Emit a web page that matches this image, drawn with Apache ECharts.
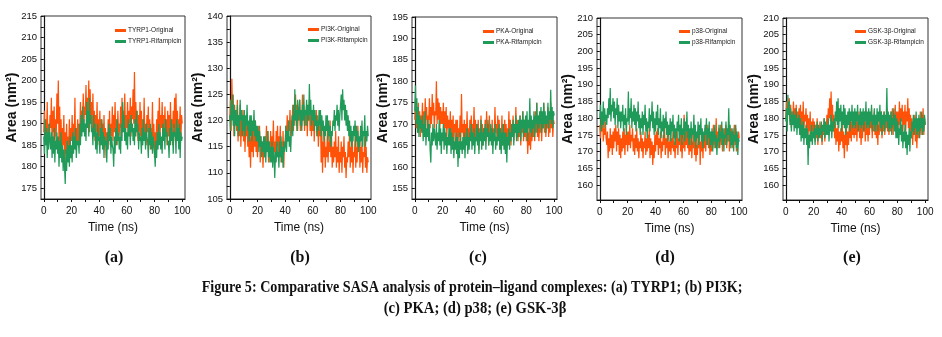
<!DOCTYPE html>
<html>
<head>
<meta charset="utf-8">
<title>SASA comparison</title>
<script src="https://cdn.jsdelivr.net/npm/echarts@6/dist/echarts.min.js"></script>
<style>
  html, body { margin: 0; padding: 0; background: #fff; }
  #chart { width: 942px; height: 337px; }
</style>
</head>
<body>
<div id="chart"></div>
<script>
// Sampling step of the MD trajectories (ns)
const TIME_STEP = 0.5;

const xTicks = [0, 20, 40, 60, 80, 100];
const xMinorTicks = [0, 10, 20, 30, 40, 50, 60, 70, 80, 90, 100];

const panelLabels = ['(a)', '(b)', '(c)', '(d)', '(e)'];
const proteins = ['TYRP1', 'PI3K', 'PKA', 'p38', 'GSK-3β'];

// Y axis ranges and labelled ticks for each panel
const yRanges = [[172.5, 215], [105, 140], [152.5, 195], [155.5, 210], [155.5, 210]];
const yTicksA = [175, 180, 185, 190, 195, 200, 205, 210, 215];
const yTicksB = [105, 110, 115, 120, 125, 130, 135, 140];
const yTicksC = [155, 160, 165, 170, 175, 180, 185, 190, 195];
const yTicksD = [160, 165, 170, 175, 180, 185, 190, 195, 200, 205, 210];
const yTicksE = [160, 165, 170, 175, 180, 185, 190, 195, 200, 205, 210];

// SASA (nm^2), one value every 0.5 ns from 0 to 100 ns
const tyrp1Original = [
  188,193,185,191,187,195,184,190,186,192, 189,196,185,193,188,194,184,191,187,197,
  190,200,186,194,184,191,183,189,185,192, 181,188,183,190,182,187,184,191,183,189,
  186,192,184,190,185,196,184,189,186,191, 185,190,187,195,188,193,189,197,190,194,
  192,199,189,196,191,200,188,198,190,195, 189,197,187,193,186,192,188,195,185,191,
  187,193,185,191,186,190,184,192,185,189, 182,188,184,191,186,193,185,190,187,194,
  186,192,188,195,187,191,185,193,188,190, 187,194,189,196,188,193,190,197,187,192,
  189,195,188,193,190,196,187,194,191,198, 190,202,188,195,189,193,186,192,188,195,
  187,193,185,191,188,196,186,190,185,192, 188,194,186,191,184,189,187,195,185,190,
  182,188,184,191,186,193,188,196,187,192, 189,195,187,192,186,194,188,191,185,193,
  187,192,186,195,188,191,185,193,189,196, 186,197,188,193,187,191,189,194,186,192,
  190
];
const tyrp1Rifampicin = [
  187,183,191,185,189,182,188,184,190,186, 184,188,182,187,183,189,181,186,184,188,
  183,187,180,186,182,188,181,185,179,184, 180,176,184,179,186,181,185,180,187,182,
  185,181,188,183,187,184,189,182,186,185, 186,183,190,185,192,187,194,188,191,187,
  190,186,195,189,193,187,196,190,192,188, 189,185,192,187,190,184,188,183,190,186,
  187,183,189,185,191,184,188,182,187,185, 186,181,188,184,190,186,189,183,187,185,
  184,180,187,183,189,185,191,186,188,184, 187,183,190,186,195,188,192,186,189,185,
  188,184,191,187,190,185,192,188,190,186, 189,185,191,187,193,188,190,184,188,186,
  187,183,189,185,191,186,188,184,190,187, 186,182,189,185,190,184,188,183,187,185,
  183,180,186,182,188,184,190,185,188,184, 187,183,190,186,189,184,191,187,188,185,
  186,182,189,185,191,186,188,183,190,187, 188,183,191,186,189,184,190,182,188,186,
  187
];
const pi3kOriginal = [
  120,124,118,128,121,125,117,123,119,122, 118,124,116,121,117,123,115,120,117,122,
  116,121,114,119,117,120,115,118,113,117, 111,117,114,119,113,118,115,120,114,117,
  113,118,115,119,112,117,114,116,111,115, 113,117,115,119,114,118,112,116,114,118,
  113,117,115,120,114,116,112,118,115,119, 113,117,115,119,112,116,114,118,111,116,
  115,119,117,121,116,120,118,122,117,120, 119,123,118,122,120,125,119,123,118,122,
  120,124,118,122,119,125,120,123,118,121, 119,123,117,122,120,124,118,121,117,122,
  118,122,116,120,119,122,117,121,115,119, 117,121,112,118,110,116,113,117,111,115,
  113,118,112,116,114,120,113,117,111,115, 112,116,113,118,111,115,112,117,110,114,
  112,116,110,115,113,117,111,114,109,113, 112,116,113,118,111,115,112,117,110,114,
  113,117,111,115,112,119,114,116,111,115, 112,116,110,114,113,117,111,115,110,113,
  112
];
const pi3kRifampicin = [
  121,118,124,120,125,119,123,117,122,120, 119,123,117,121,118,124,120,122,117,121,
  118,122,117,121,119,123,118,120,116,121, 117,121,116,120,118,122,117,120,116,119,
  116,119,114,118,115,117,113,116,114,117, 113,117,112,116,114,118,113,116,112,115,
  112,116,111,115,113,109,114,112,116,113, 114,111,116,113,117,112,115,111,116,114,
  115,119,114,118,116,120,115,117,114,118, 121,117,123,119,126,120,122,118,124,120,
  120,124,119,122,118,123,120,125,119,122, 121,124,119,123,120,127,121,124,119,122,
  120,123,118,122,119,121,117,120,118,122, 119,122,117,121,118,120,116,119,117,121,
  118,121,116,120,117,119,115,118,117,120, 119,122,118,121,120,123,119,122,118,121,
  121,125,120,126,122,124,120,123,119,122, 118,121,117,120,116,119,115,118,116,119,
  117,120,115,119,116,118,114,117,115,119, 116,120,115,118,117,121,115,118,116,119,
  117
];
const pkaOriginal = [
  171,176,169,174,168,175,170,173,167,172, 170,175,168,173,169,176,171,174,168,172,
  171,176,169,174,170,177,172,175,169,173, 172,180,170,176,171,175,169,174,170,173,
  170,175,168,173,169,174,167,172,169,171, 168,173,166,171,167,172,165,170,168,171,
  166,171,165,169,167,172,166,177,168,170, 166,171,165,170,167,173,166,169,165,171,
  167,172,166,170,168,174,167,171,166,170, 166,171,164,169,167,172,166,170,165,169,
  167,171,166,173,168,170,165,172,167,169, 166,171,165,169,167,174,168,170,166,172,
  167,171,164,169,166,172,165,170,167,171, 166,170,164,169,167,173,166,171,165,169,
  167,172,166,170,168,174,167,171,166,170, 167,172,165,170,168,173,166,171,167,170,
  166,169,163,168,165,170,164,168,166,169, 167,171,166,173,168,175,167,172,166,170,
  168,173,166,171,169,175,168,172,167,171, 169,174,167,172,168,175,169,173,167,171,
  170
];
const pkaRifampicin = [
  173,179,170,176,168,174,167,172,169,171, 168,172,166,170,167,173,165,169,167,171,
  166,170,164,161,168,165,170,166,169,167, 165,170,164,168,166,171,165,169,163,168,
  166,170,164,169,165,168,163,167,165,169, 165,169,163,168,164,167,162,166,164,168,
  163,167,160,166,162,168,164,166,163,167, 164,168,162,167,165,169,163,167,164,168,
  166,170,164,168,165,169,163,167,166,170, 165,169,163,168,166,171,164,168,165,169,
  166,170,164,169,167,171,165,168,166,170, 165,169,163,168,166,170,164,167,165,169,
  166,170,164,169,163,168,165,170,164,168, 163,168,161,167,165,169,164,168,166,170,
  167,171,165,170,168,172,166,170,167,171, 168,172,166,171,169,173,167,171,168,172,
  168,173,166,171,169,176,168,172,167,171, 169,173,167,172,170,175,168,172,169,173,
  170,174,168,173,169,175,170,173,168,172, 170,175,169,173,171,178,170,174,169,173,
  172
];
const p38Original = [
  178,174,181,176,180,173,177,175,179,174, 172,176,168,174,170,177,171,175,169,176,
  171,177,173,178,170,176,172,177,169,175, 168,174,170,176,171,177,169,175,172,176,
  170,176,172,178,171,175,173,177,170,174, 169,175,171,177,170,174,168,173,171,176,
  170,174,168,173,171,176,169,174,170,175, 171,177,168,174,169,173,166,172,168,175,
  170,176,172,177,169,174,171,176,168,173, 170,175,172,177,169,174,171,175,168,173,
  170,175,169,174,171,176,170,173,168,174, 171,176,169,174,172,177,170,175,168,173,
  171,181,170,176,172,178,171,175,169,174, 170,176,168,173,171,177,169,174,167,172,
  169,175,171,177,166,173,170,176,168,174, 171,177,170,175,172,178,171,176,169,174,
  170,176,172,178,171,175,173,180,172,176, 171,177,173,178,172,176,170,175,173,177,
  172,178,171,176,173,179,170,175,172,177, 171,176,173,178,172,177,170,175,172,176,
  174
];
const p38Rifampicin = [
  180,184,176,182,178,185,177,183,179,181, 178,183,180,186,181,189,179,184,182,186,
  180,185,178,183,181,186,177,184,179,182, 177,182,179,184,176,181,178,183,175,180,
  179,188,178,183,180,186,177,182,179,184, 178,183,176,182,179,185,177,181,175,180,
  177,182,175,181,178,184,176,180,174,179, 177,183,176,181,179,185,177,182,175,180,
  176,182,178,184,175,180,177,183,174,179, 176,181,174,180,177,182,175,179,173,178,
  175,180,173,179,176,181,174,178,172,177, 174,179,176,181,173,178,175,180,172,177,
  175,180,173,179,176,182,174,178,172,177, 174,179,172,177,175,181,173,178,171,176,
  174,179,172,178,175,180,173,177,171,176, 173,178,175,180,172,177,174,179,171,176,
  172,177,170,176,173,178,171,175,169,174, 173,178,171,176,174,179,172,177,170,175,
  174,179,172,177,175,183,173,178,171,176, 172,177,170,175,173,178,171,176,169,174,
  173
];
const gsk3bOriginal = [
  180,185,178,183,181,186,179,184,177,182, 180,185,178,183,179,184,177,182,178,183,
  179,184,177,182,178,185,176,181,179,183, 177,181,175,180,176,182,174,179,176,180,
  175,179,173,178,174,180,172,177,175,179, 174,178,172,177,175,180,173,178,176,181,
  178,183,180,186,179,188,178,184,176,181, 174,179,172,177,173,178,170,176,172,177,
  173,178,171,176,168,175,172,177,170,176, 172,178,174,180,173,179,175,181,174,179,
  175,181,173,179,176,182,174,180,172,178, 174,180,176,182,173,179,175,181,173,178,
  175,181,177,183,174,180,176,182,175,180, 174,180,172,178,175,181,176,182,174,179,
  176,182,175,180,177,183,176,181,175,180, 176,182,177,183,175,181,178,184,177,182,
  176,182,178,185,177,183,179,184,176,182, 178,184,176,182,179,186,177,183,175,181,
  174,180,172,178,175,181,173,179,171,177, 174,180,176,182,175,181,177,183,175,180,
  178
];
const gsk3bRifampicin = [
  179,183,176,187,181,185,178,183,176,181, 178,182,176,181,177,183,175,180,177,181,
  175,180,173,178,174,179,172,177,174,178, 172,177,166,175,171,176,173,178,172,176,
  174,178,172,177,175,179,173,178,174,177, 175,179,173,178,176,180,174,179,175,178,
  175,180,173,178,176,181,174,179,176,180, 177,182,179,185,178,186,177,183,179,184,
  176,182,178,184,177,183,175,181,177,182, 178,183,176,182,179,184,177,182,178,183,
  177,182,179,184,176,181,178,183,177,182, 178,183,176,182,179,185,177,182,178,183,
  177,182,179,184,176,181,178,183,176,181, 178,183,176,182,179,184,177,182,175,181,
  178,182,176,181,179,189,177,182,176,181, 177,182,175,180,178,183,176,181,174,180,
  174,179,172,177,175,180,173,178,171,176, 173,178,171,176,169,175,172,177,170,176,
  174,179,176,181,175,180,177,182,175,180, 176,181,174,180,177,182,175,180,176,181,
  178
];

const originalSeries = [tyrp1Original, pi3kOriginal, pkaOriginal, p38Original, gsk3bOriginal];
const rifampicinSeries = [tyrp1Rifampicin, pi3kRifampicin, pkaRifampicin, p38Rifampicin, gsk3bRifampicin];
const yTickSets = [yTicksA, yTicksB, yTicksC, yTicksD, yTicksE];

const ORANGE = '#ff5208';
const GREEN = '#1f9a58';
const SANS = '"Liberation Sans", Arial, sans-serif';
const SERIF = '"Liberation Serif", "Times New Roman", serif';

// Plot rectangles (px) for the five panels
const boxes = [
  { left: 41,  top: 16, width: 144, height: 183 },
  { left: 227, top: 16, width: 144, height: 183 },
  { left: 412, top: 17, width: 145, height: 182 },
  { left: 597, top: 18, width: 145, height: 182 },
  { left: 783, top: 18, width: 145, height: 182 }
];
const legendPos = [
  { left: 115, top: 27 }, { left: 308, top: 26 }, { left: 483, top: 28 },
  { left: 679, top: 28 }, { left: 855, top: 28 }
];
const captionX = [114, 300, 478, 665, 852];

function toPairs(values) {
  return values.map((v, i) => [i * TIME_STEP, v]);
}
function halfSteps(ticks) {
  const out = [];
  for (let i = 0; i < ticks.length; i++) {
    out.push(ticks[i]);
    if (i < ticks.length - 1) out.push((ticks[i] + ticks[i + 1]) / 2);
  }
  return out;
}

const grid = [], xAxis = [], yAxis = [], series = [], legend = [];
boxes.forEach((b, k) => {
  grid.push(Object.assign({ show: true, borderColor: '#333', borderWidth: 1, backgroundColor: '#fff' }, b));
  xAxis.push({
    type: 'value', gridIndex: k, min: -2, max: 102,
    name: 'Time (ns)', nameLocation: 'middle', nameGap: 23, nameMoveOverlap: false,
    nameTextStyle: { fontFamily: SANS, fontSize: 12, color: '#111' },
    axisLine: { lineStyle: { color: '#111', width: 1.2 } },
    axisTick: { show: true, length: 3, customValues: xMinorTicks, lineStyle: { color: '#111' } },
    axisLabel: { customValues: xTicks, margin: 7, fontFamily: SANS, fontSize: 10, color: '#111' },
    splitLine: { show: false }
  });
  const yt = yTickSets[k];
  yAxis.push({
    type: 'value', gridIndex: k, min: yRanges[k][0], max: yRanges[k][1],
    name: 'Area (nm²)', nameLocation: 'middle', nameGap: 22, nameMoveOverlap: false,
    nameTextStyle: { fontFamily: SANS, fontWeight: 'bold', fontSize: 14, color: '#111' },
    axisLine: { lineStyle: { color: '#111', width: 1.2 } },
    axisTick: { show: true, length: 3, customValues: halfSteps(yt), lineStyle: { color: '#111' } },
    axisLabel: { customValues: yt, margin: 4, fontFamily: SANS, fontSize: 9.5, color: '#111' },
    splitLine: { show: false }
  });
  const nameO = proteins[k] + '-Original';
  const nameR = proteins[k] + '-Rifampicin';
  series.push({
    name: nameO, type: 'line', xAxisIndex: k, yAxisIndex: k,
    data: toPairs(originalSeries[k]), showSymbol: false, symbol: 'none',
    lineStyle: { color: ORANGE, width: 1.25 }, itemStyle: { color: ORANGE }, z: 2
  });
  series.push({
    name: nameR, type: 'line', xAxisIndex: k, yAxisIndex: k,
    data: toPairs(rifampicinSeries[k]), showSymbol: false, symbol: 'none',
    lineStyle: { color: GREEN, width: 1.25 }, itemStyle: { color: GREEN }, z: 3
  });
  legend.push({
    data: [nameO, nameR], orient: 'vertical', left: legendPos[k].left, top: legendPos[k].top,
    icon: 'rect', itemWidth: 11, itemHeight: 3, itemGap: 4, padding: 0,
    textStyle: { fontFamily: SANS, fontSize: 6.5, color: '#222', padding: [0, 0, 0, -3] },
    selectedMode: false
  });
});

// Panel letters and the two-line figure caption
const graphic = panelLabels.map((t, k) => ({
  type: 'text', x: captionX[k], y: 258,
  style: { text: t, font: 'bold 16px ' + SERIF, fill: '#111', align: 'center', verticalAlign: 'middle' }
}));
graphic.push({
  type: 'text', x: 472, y: 288, scaleX: 0.83,
  style: {
    text: 'Figure 5: Comparative SASA analysis of protein–ligand complexes: (a) TYRP1; (b) PI3K;',
    font: 'bold 17px ' + SERIF, fill: '#111', align: 'center', verticalAlign: 'middle'
  }
});
graphic.push({
  type: 'text', x: 475, y: 309, scaleX: 0.86,
  style: {
    text: '(c) PKA; (d) p38; (e) GSK-3β',
    font: 'bold 17px ' + SERIF, fill: '#111', align: 'center', verticalAlign: 'middle'
  }
});

const chart = echarts.init(document.getElementById('chart'), null, { renderer: 'canvas' });
chart.setOption({
  animation: false,
  backgroundColor: '#fff',
  grid, xAxis, yAxis, series, legend, graphic
});
</script>
</body>
</html>
